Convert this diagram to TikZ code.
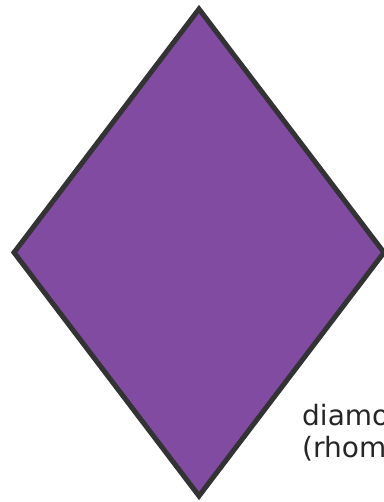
\documentclass[tikz,border=0pt]{standalone}
\usepackage{fontspec}
\setmainfont{DejaVu Sans}
\usetikzlibrary{shapes.geometric}
\definecolor{rhombusfill}{HTML}{804BA0}
\definecolor{rhombusline}{HTML}{333333}
\tikzset{
    rhombusshape/.style={
        diamond,
        draw=rhombusline,
        fill=rhombusfill,
        line width=5pt,
        inner sep=0pt,
        minimum width=372pt,
        minimum height=489pt
    }
}
\tikzset{
    caption/.style={
        anchor=base west,
        align=left,
        inner sep=0pt,
        text=black!85,
        font=\fontsize{28pt}{32pt}\selectfont
    }
}
\begin{document}
\begin{tikzpicture}[x=1pt,y=-1pt]
\useasboundingbox (0,0) rectangle (383,502);

\node[rhombusshape] (rhombus) at (199,252.5) {};

\node[caption] (label) at (302,457)
    {diamond\\(rhombus)};

\end{tikzpicture}
\end{document}
